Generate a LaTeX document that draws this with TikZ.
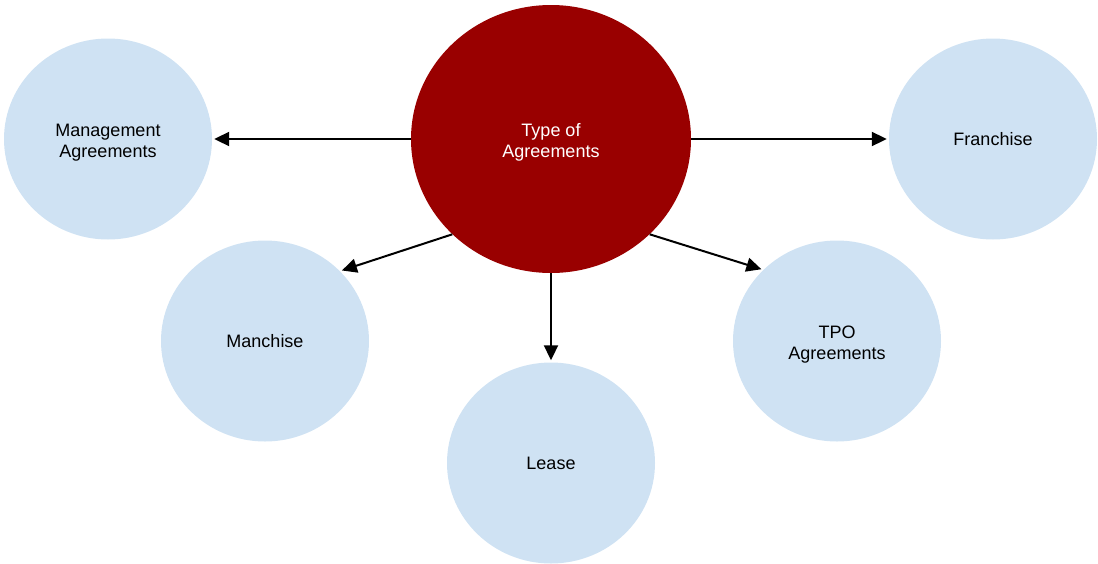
\documentclass[tikz,border=0pt]{standalone}
\usepackage{fontspec}
\setmainfont{Liberation Sans}
\usetikzlibrary{shapes.geometric,arrows.meta}
\definecolor{hubred}{HTML}{990000}
\definecolor{leafblue}{HTML}{CFE2F3}
\newcommand{\twolines}[2]{\raisebox{-3.5pt}[\height][\depth]{\begin{tabular}{@{}c@{}}#1\\#2\end{tabular}}}
\tikzset{
  leaf/.style={ellipse, fill=leafblue, draw=none, minimum width=208pt, minimum height=201pt, inner sep=0pt, align=center, font=\fontsize{18}{21.5}\selectfont, text=black},
  hub/.style={ellipse, fill=hubred, draw=none, minimum width=280pt, minimum height=268pt, inner sep=0pt, align=center, font=\fontsize{18}{21.5}\selectfont, text=white},
  link/.style={line width=2pt, -{Triangle[length=15pt,width=14pt]}, shorten >=2pt}
}
\begin{document}
\begin{tikzpicture}[x=1pt,y=-1pt]
\useasboundingbox (0,0) rectangle (1098,563);
\node[hub] (c) at (551,139) {\twolines{Type of}{Agreements}};
\node[leaf] (ma) at (108,139) {\twolines{Management}{Agreements}};
\node[leaf] (fr) at (993,139) {Franchise};
\node[leaf] (mc) at (265,341) {Manchise};
\node[leaf] (tpo) at (837,341) {\twolines{TPO}{Agreements}};
\node[leaf] (ls) at (551,463) {Lease};
\draw[link] (c.west) -- (ma.east);
\draw[link] (c.east) -- (fr.west);
\draw[link] (c.224) -- (mc.43);
\draw[link] (c.316) -- (tpo.136.5);
\draw[link] (c.south) -- (ls.north);
\end{tikzpicture}
\end{document}
